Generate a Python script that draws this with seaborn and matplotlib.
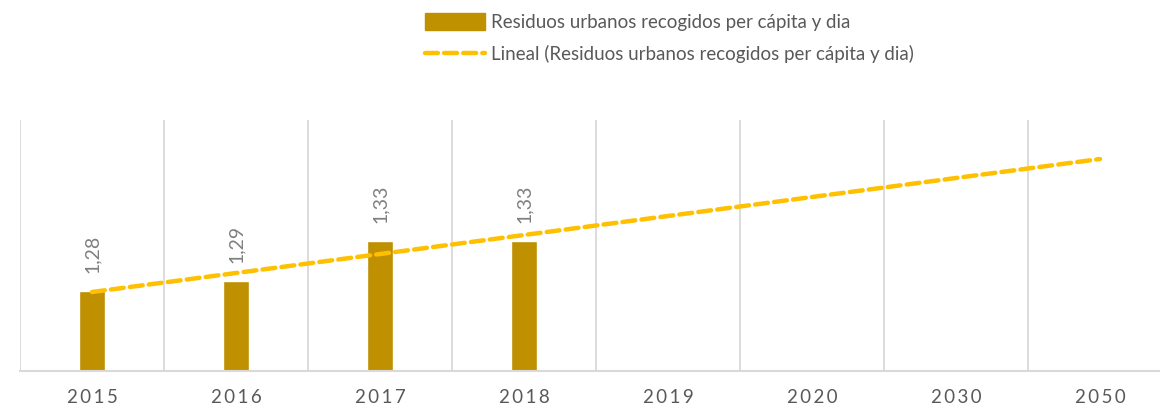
import numpy as np
import pandas as pd
import matplotlib
matplotlib.use("Agg")
import matplotlib.pyplot as plt
import seaborn as sns
from matplotlib.patches import Patch
from matplotlib.lines import Line2D

years = ["2015", "2016", "2017", "2018", "2019", "2020", "2030", "2050"]
residuos = [1.28, 1.29, 1.33, 1.33, np.nan, np.nan, np.nan, np.nan]
value_labels = ["1,28", "1,29", "1,33", "1,33"]
series_name = "Residuos urbanos recogidos per cápita y dia"
trend_name = "Lineal (Residuos urbanos recogidos per cápita y dia)"

BAR = "#BF9000"
TREND = "#FFC000"
GRID = "#D9D9D9"
TXT = "#595959"
DASH = (0, (2.9, 1.4))

sns.set_theme(style="white")
plt.rcParams["font.family"] = ["Lato", "DejaVu Sans"]

df = pd.DataFrame({"year": years, "value": residuos})

fig = plt.figure(figsize=(11.6, 4.11), dpi=100)
ax = fig.add_axes([20 / 1160, 1 - 371 / 411, 1152 / 1160, 251 / 411])

sns.barplot(data=df, x="year", y="value", order=years, color=BAR,
            width=0.184, saturation=1, ax=ax, errorbar=None)

# linear trend fitted on the observed years, extended across all categories
obs = df["value"].notna().to_numpy()
xpos = np.arange(len(years)) + 1
slope, intercept = np.polyfit(xpos[obs], df["value"][obs], 1)
trend = intercept + slope * xpos
sns.lineplot(x=xpos - 1, y=trend, ax=ax, color=TREND, lw=3.2,
             linestyle=DASH)
for l in ax.lines:
    l.set_dash_capstyle("round")

ax.set_xlim(-0.5, len(years) - 0.5)
ax.set_ylim(1.2, 1.451)

# value labels above bars
for i, (v, lab) in enumerate(zip(residuos, value_labels)):
    ax.annotate(lab, (i, v), xytext=(0, 13), textcoords="offset points",
                rotation=90, ha="center", va="bottom", color="#7F7F7F",
                fontsize=14)

# category separators
for b in np.arange(-0.5, len(years) + 0.5, 1.0):
    ax.axvline(b, color=GRID, lw=1.3, zorder=0)

for s in ["top", "right", "left"]:
    ax.spines[s].set_visible(False)
ax.spines["bottom"].set_color(GRID)
ax.spines["bottom"].set_linewidth(1.5)
ax.set_yticks([])
ax.set_xlabel("")
ax.set_ylabel("")
ax.set_xticks(range(len(years)))
ax.set_xticklabels(["\u2009".join(y) for y in years], color=TXT, fontsize=13.5)
ax.tick_params(axis="x", length=0, pad=13)

handles = [Patch(facecolor=BAR, edgecolor=BAR),
           Line2D([0], [0], color=TREND, lw=3.2, linestyle=DASH,
                  dash_capstyle="round")]
leg = fig.legend(handles, [series_name, trend_name], loc="upper left",
                 bbox_to_anchor=(412 / 1160, 1 - 0 / 411), frameon=False,
                 fontsize=13.5, labelcolor=TXT, handlelength=3.2,
                 handleheight=1.0, handletextpad=0.3, labelspacing=0.75,
                 borderpad=0.2)

fig.savefig("out.png", dpi=100)
